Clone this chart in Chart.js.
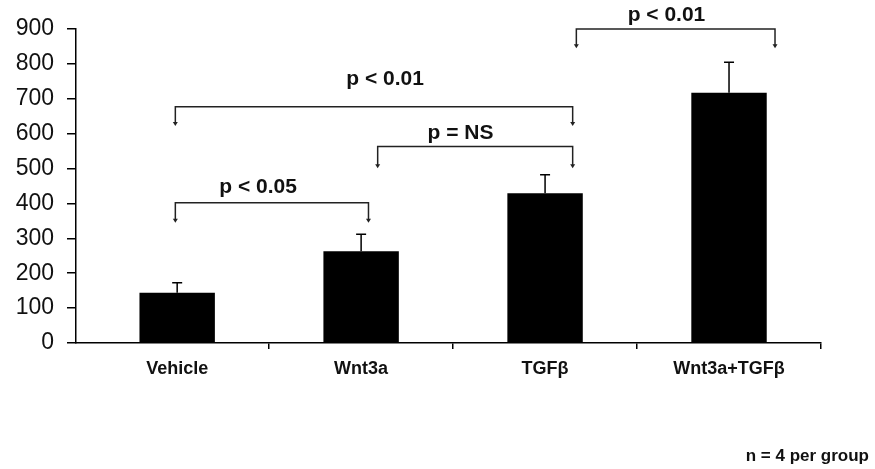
<!DOCTYPE html>
<html>
<head>
<meta charset="utf-8">
<script src="https://cdn.jsdelivr.net/npm/chart.js@4/dist/chart.umd.min.js"></script>
<style>
    html, body { margin: 0; padding: 0; background: #fff; }
    #wrap { width: 875px; height: 469px; }
</style>
</head>
<body>
<div id="wrap"><canvas id="chart" width="875" height="469"></canvas></div>
<script>
// Data
const groups = ['Vehicle', 'Wnt3a', 'TGF\u03b2', 'Wnt3a+TGF\u03b2'];
const groupPos = [0, 1, 2, 3];
const means = [144, 263, 429, 717];
const errors = [29, 49, 53, 88];
const yTicks = [0, 100, 200, 300, 400, 500, 600, 700, 800, 900];

// Significance brackets (x in group units, y in data units)
const bracketLabels = ['p < 0.05', 'p = NS', 'p < 0.01', 'p < 0.01'];
const bracketFrom = [-0.01, 1.09, -0.01, 2.17];
const bracketTo = [1.04, 2.15, 2.15, 3.25];
const bracketTop = [402, 563, 677, 900];
const bracketTip = [345, 501, 622, 845];
const labelX = [0.44, 1.54, 1.13, 2.66];
const labelY = [447, 602, 757, 940];

const footnote = 'n = 4 per group';

// Draw the upward error bars
const errorBarPlugin = {
    id: 'errorBars',
    afterDatasetsDraw(chart) {
        const ctx = chart.ctx;
        const yScale = chart.scales.y;
        const meta = chart.getDatasetMeta(0);
        ctx.save();
        ctx.strokeStyle = '#000';
        ctx.lineWidth = 1.5;
        meta.data.forEach((bar, i) => {
            const yTop = yScale.getPixelForValue(means[i] + errors[i]);
            ctx.beginPath();
            ctx.moveTo(bar.x, bar.y);
            ctx.lineTo(bar.x, yTop);
            ctx.moveTo(bar.x - 5, yTop);
            ctx.lineTo(bar.x + 5, yTop);
            ctx.stroke();
        });
        ctx.restore();
    }
};

// Draw the brackets with arrows and p-value labels
const bracketPlugin = {
    id: 'brackets',
    afterDraw(chart) {
        const ctx = chart.ctx;
        const xScale = chart.scales.x;
        const yScale = chart.scales.y;
        ctx.save();
        ctx.strokeStyle = '#222';
        ctx.lineWidth = 1.5;
        bracketLabels.forEach((label, i) => {
            const x1 = xScale.getPixelForValue(bracketFrom[i]);
            const x2 = xScale.getPixelForValue(bracketTo[i]);
            const yh = yScale.getPixelForValue(bracketTop[i]);
            const yt = yScale.getPixelForValue(bracketTip[i]);
            ctx.beginPath();
            ctx.moveTo(x1, yt - 3);
            ctx.lineTo(x1, yh);
            ctx.lineTo(x2, yh);
            ctx.lineTo(x2, yt - 3);
            ctx.stroke();
            ctx.fillStyle = '#222';
            [x1, x2].forEach(x => {
                ctx.beginPath();
                ctx.moveTo(x - 2.5, yt - 4);
                ctx.lineTo(x + 2.5, yt - 4);
                ctx.lineTo(x, yt);
                ctx.closePath();
                ctx.fill();
            });
            ctx.fillStyle = '#111';
            ctx.font = 'bold 21px "Liberation Sans", Arial, sans-serif';
            ctx.textAlign = 'center';
            ctx.textBaseline = 'middle';
            ctx.fillText(label, xScale.getPixelForValue(labelX[i]), yScale.getPixelForValue(labelY[i]));
        });

        ctx.fillStyle = '#111';
        ctx.font = 'bold 17px "Liberation Sans", Arial, sans-serif';
        ctx.textAlign = 'right';
        ctx.textBaseline = 'middle';
        ctx.fillText(footnote, 869, 456);
        ctx.restore();
    }
};

const ctx = document.getElementById('chart').getContext('2d');
const chart = new Chart(ctx, {
    type: 'bar',
    data: {
        datasets: [{
            data: groupPos.map((x, i) => ({ x: x, y: means[i] })),
            backgroundColor: '#000',
            borderWidth: 0,
            categoryPercentage: 1,
            barPercentage: 0.41
        }]
    },
    options: {
        responsive: false,
        animation: false,
        layout: {
            padding: { top: 29, right: 54, bottom: 86, left: 0 }
        },
        plugins: {
            legend: { display: false },
            tooltip: { enabled: false }
        },
        scales: {
            x: {
                type: 'linear',
                min: -0.55,
                max: 3.5,
                offset: false,
                afterBuildTicks(scale) {
                    scale.ticks = groupPos.map(v => ({ value: v }));
                },
                grid: {
                    display: true,
                    offset: true,
                    drawOnChartArea: false,
                    drawTicks: true,
                    tickLength: 6,
                    color: c => (c.index === 0 ? 'rgba(0,0,0,0)' : '#000'),
                    lineWidth: 1.5
                },
                border: { color: '#000', width: 1.5 },
                ticks: {
                    color: '#111',
                    padding: 9,
                    maxRotation: 0,
                    autoSkip: false,
                    callback: v => groups[v],
                    font: { family: '"Liberation Sans", Arial, sans-serif', size: 18, weight: 'bold' }
                },
                afterFit(scale) { scale.height = 40; }
            },
            y: {
                min: 0,
                max: 900,
                afterBuildTicks(scale) {
                    scale.ticks = yTicks.map(v => ({ value: v }));
                },
                grid: {
                    display: true,
                    drawOnChartArea: false,
                    drawTicks: true,
                    tickLength: 9,
                    color: '#000',
                    lineWidth: 1.5
                },
                border: { color: '#000', width: 1.5 },
                ticks: {
                    color: '#111',
                    padding: 13,
                    font: { family: '"Liberation Sans", Arial, sans-serif', size: 23 }
                },
                afterFit(scale) { scale.width = 76; }
            }
        }
    },
    plugins: [errorBarPlugin, bracketPlugin]
});
</script>
</body>
</html>
